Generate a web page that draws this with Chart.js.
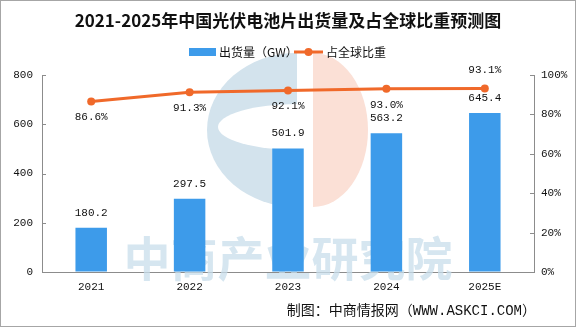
<!DOCTYPE html>
<html>
<head>
<meta charset="utf-8">
<script src="https://cdn.jsdelivr.net/npm/chart.js"></script>
<style>
  html, body { margin: 0; padding: 0; background: #fff; }
  #wrap { width: 576px; height: 327px; position: relative; }
</style>
</head>
<body>
<div id="wrap"><canvas id="chart" width="576" height="327"></canvas></div>
<script>
const years = ['2021', '2022', '2023', '2024', '2025E'];
const shipments = [180.2, 297.5, 501.9, 563.2, 645.4];
const globalShare = [86.6, 91.3, 92.1, 93.0, 93.1];
const leftTicks = [0, 200, 400, 600, 800];
const rightTicks = [0, 20, 40, 60, 80, 100];

const barColor = '#3d9bea';
const lineColor = '#f0692a';
const monoFont = '"Liberation Mono", "Noto Sans CJK SC", monospace';
const cjkFont = '"Noto Sans CJK SC", sans-serif';

// background, watermark, legend, labels, footer
const decor = {
  id: 'decor',
  beforeDraw(chart) {
    const ctx = chart.ctx;
    ctx.save();
    ctx.fillStyle = '#fff';
    ctx.fillRect(0, 0, chart.width, chart.height);
    ctx.restore();
  },
  beforeDatasetsDraw(chart) {
    const ctx = chart.ctx;
    ctx.save();
    // logo
    ctx.fillStyle = '#d3e3ed';
    ctx.beginPath();
    ctx.ellipse(297, 130, 90, 77, 0, Math.PI / 2, Math.PI * 1.5);
    ctx.closePath();
    ctx.fill();
    ctx.fillStyle = '#fff';
    ctx.beginPath();
    ctx.ellipse(298, 127, 80, 23, 0, 0, Math.PI * 2);
    ctx.fill();
    ctx.fillStyle = '#fbe0d6';
    ctx.beginPath();
    ctx.ellipse(313, 130, 55, 77, 0, -Math.PI / 2, Math.PI / 2);
    ctx.closePath();
    ctx.fill();
    // watermark text
    ctx.fillStyle = 'rgba(200,222,235,0.75)';
    ctx.font = 'bold 47px ' + cjkFont;
    ctx.textAlign = 'center';
    ctx.textBaseline = 'middle';
    ctx.fillText('中商产业研究院', 288, 258);
    ctx.restore();
  },
  afterDatasetsDraw(chart) {
    const ctx = chart.ctx;
    ctx.save();
    ctx.fillStyle = '#111';
    ctx.font = '11px ' + monoFont;
    ctx.textAlign = 'center';
    ctx.textBaseline = 'middle';
    chart.getDatasetMeta(0).data.forEach((bar, i) => {
      ctx.fillText(shipments[i].toFixed(1), bar.x, bar.y - 15);
    });
    const pts = chart.getDatasetMeta(1).data;
    pts.forEach((p, i) => {
      const txt = globalShare[i].toFixed(1) + '%';
      const dy = i === pts.length - 1 ? -18 : 16;
      ctx.fillText(txt, p.x, p.y + dy);
    });

    // inner tick marks
    const a = chart.chartArea;
    ctx.strokeStyle = '#8c8c8c';
    ctx.lineWidth = 1;
    const yl = chart.scales.y, yr = chart.scales.y1;
    ctx.beginPath();
    leftTicks.forEach(v => {
      const y = Math.round(yl.getPixelForValue(v)) + 0.5;
      ctx.moveTo(a.left, y); ctx.lineTo(a.left + 4, y);
    });
    rightTicks.forEach(v => {
      const y = Math.round(yr.getPixelForValue(v)) + 0.5;
      ctx.moveTo(a.right - 4, y); ctx.lineTo(a.right, y);
    });
    ctx.stroke();

    // legend
    ctx.fillStyle = barColor;
    ctx.fillRect(189, 48, 27, 8);
    ctx.fillStyle = '#111';
    ctx.font = '12px ' + cjkFont;
    ctx.textAlign = 'left';
    ctx.fillText('出货量（GW）', 219, 52);
    ctx.strokeStyle = lineColor;
    ctx.lineWidth = 3;
    ctx.beginPath();
    ctx.moveTo(294, 52); ctx.lineTo(323, 52);
    ctx.stroke();
    ctx.fillStyle = lineColor;
    ctx.beginPath();
    ctx.arc(308.5, 52, 4, 0, Math.PI * 2);
    ctx.fill();
    ctx.fillStyle = '#111';
    ctx.fillText('占全球比重', 326, 52);

    // footer
    ctx.font = '14px ' + monoFont;
    ctx.textAlign = 'right';
    ctx.fillText('制图：中商情报网（WWW.ASKCI.COM）', 536, 311);

    // frame
    ctx.strokeStyle = '#a6a6a6';
    ctx.lineWidth = 1;
    ctx.strokeRect(0.5, 0.5, chart.width - 1, chart.height - 1);
    ctx.restore();
  }
};

const ctx = document.getElementById('chart').getContext('2d');
new Chart(ctx, {
  data: {
    labels: years,
    datasets: [
      {
        type: 'bar',
        label: '出货量（GW）',
        data: shipments,
        backgroundColor: barColor,
        categoryPercentage: 1,
        barPercentage: 0.32,
        yAxisID: 'y',
        order: 2
      },
      {
        type: 'line',
        label: '占全球比重',
        data: globalShare,
        borderColor: lineColor,
        backgroundColor: lineColor,
        borderWidth: 3,
        pointRadius: 4,
        pointBackgroundColor: lineColor,
        pointBorderWidth: 0,
        tension: 0,
        yAxisID: 'y1',
        order: 1
      }
    ]
  },
  options: {
    responsive: false,
    animation: false,
    layout: { padding: 0 },
    plugins: {
      legend: { display: false },
      tooltip: { enabled: false },
      title: {
        display: true,
        text: '2021-2025年中国光伏电池片出货量及占全球比重预测图',
        color: '#111',
        font: { family: cjkFont, size: 17, weight: 'bold' },
        padding: { top: 10, bottom: 44.6 }
      }
    },
    scales: {
      x: {
        grid: { display: true, drawOnChartArea: false, drawTicks: false },
        border: { display: true, color: '#8c8c8c' },
        ticks: { color: '#111', font: { family: monoFont, size: 11 }, padding: 8 },
        afterFit: s => { s.height = 55; }
      },
      y: {
        position: 'left',
        min: 0,
        max: 800,
        afterBuildTicks: s => { s.ticks = leftTicks.map(v => ({ value: v })); },
        grid: { display: true, drawOnChartArea: false, drawTicks: false },
        border: { display: true, color: '#8c8c8c' },
        ticks: { color: '#111', font: { family: monoFont, size: 11 }, padding: 9 },
        afterFit: s => { s.width = 42; }
      },
      y1: {
        position: 'right',
        min: 0,
        max: 100,
        afterBuildTicks: s => { s.ticks = rightTicks.map(v => ({ value: v })); },
        grid: { display: true, drawOnChartArea: false, drawTicks: false },
        border: { display: true, color: '#8c8c8c' },
        ticks: { color: '#111', font: { family: monoFont, size: 11 }, padding: 7,
          callback: v => v + '%' },
        afterFit: s => { s.width = 42; }
      }
    }
  },
  plugins: [decor]
});
</script>
</body>
</html>
